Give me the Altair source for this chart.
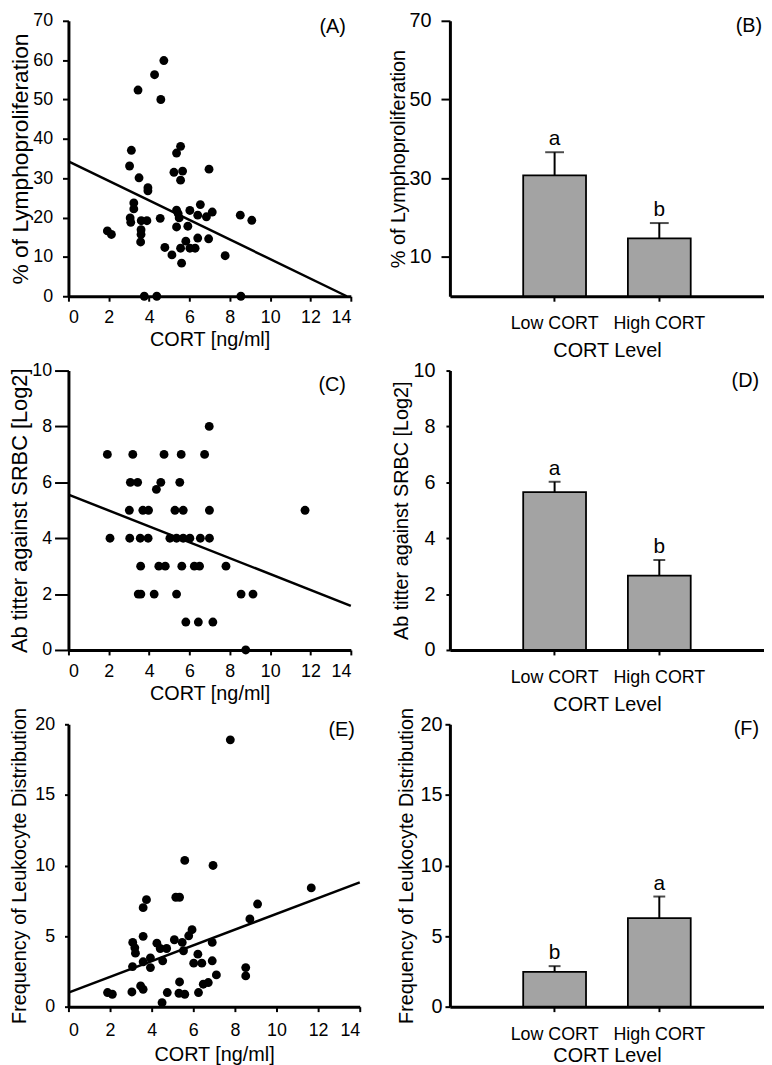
import altair as alt
import pandas as pd

FONT = "Liberation Sans"

# ---------------- Panel A : CORT vs % Lymphoproliferation ----------------
a_cort = [1.93, 2.13, 3.45, 4.27, 4.73, 4.58, 3.12, 3.03, 3.50, 3.94, 3.94, 3.24, 3.24,
          3.06, 3.09, 3.61, 3.89, 3.60, 3.60, 3.58, 3.76, 4.38, 4.55, 4.78, 5.13, 5.61,
          5.36, 5.56, 5.23, 5.66, 5.56, 5.36, 5.44, 5.49, 5.36, 5.56, 5.82, 6.02, 6.28,
          6.02, 5.92, 6.41, 6.54, 6.41, 6.84, 7.13, 6.95, 6.97, 7.77, 8.52, 8.55, 9.09]
a_lymph = [16.6, 15.7, 52.4, 56.3, 59.9, 50.0, 37.1, 33.1, 30.1, 27.6, 26.8, 23.7, 22.2,
           19.9, 18.8, 19.2, 19.2, 16.9, 15.7, 13.8, 0.0, 0.0, 19.8, 12.4, 10.5, 8.4,
           36.4, 38.1, 31.5, 31.8, 29.5, 21.9, 21.0, 19.9, 17.6, 12.2, 14.0, 12.2, 12.2,
           21.8, 17.8, 20.6, 23.3, 14.8, 20.2, 21.4, 14.6, 32.3, 10.3, 20.6, 0.0, 19.3]
a_fit_cort = [0.0, 13.8]
a_fit_lymph = [34.3, 0.0]

# ---------------- Panel C : CORT vs Ab titer ----------------
c_cort = [6.98, 1.93, 3.19, 4.74, 5.59, 6.75, 3.07, 3.43, 4.58, 5.52, 4.36,
          3.02, 3.69, 3.97, 5.28, 5.69, 6.99, 11.73,
          2.06, 3.04, 3.56, 3.95, 5.03, 5.36, 5.69, 6.02, 6.54, 6.99,
          3.58, 4.48, 4.80, 5.62, 6.24, 6.50, 7.81,
          3.46, 3.59, 4.25, 5.36, 8.56, 9.15, 5.82, 6.44, 7.16, 8.79]
c_titer = [8, 7, 7, 7, 7, 7, 6, 6, 6, 6, 5.75,
           5, 5, 5, 5, 5, 5, 5,
           4, 4, 4, 4, 4, 4, 4, 4, 4, 4,
           3, 3, 3, 3, 3, 3, 3,
           2, 2, 2, 2, 2, 2, 1, 1, 1, 0]
c_fit_cort = [0.0, 14.0]
c_fit_titer = [5.56, 1.58]

# ---------------- Panel E : CORT vs Leukocyte frequency ----------------
e_cort = [1.88, 2.11, 3.05, 3.47, 3.59, 3.09, 3.19, 3.22, 3.08, 3.59, 3.59, 3.75,
          3.59, 3.94, 3.94, 4.25, 4.41, 4.72, 4.53, 4.50, 4.75, 5.09, 5.16, 5.34,
          5.34, 5.31, 5.59, 5.47, 5.53, 5.59, 5.78, 5.94, 6.02, 6.22, 6.41, 6.25,
          6.48, 6.72, 6.95, 6.91, 6.91, 7.11, 7.78, 8.52, 8.52, 8.72, 9.09, 11.67]
e_freq = [1.00, 0.88, 1.04, 1.47, 1.23, 4.55, 4.17, 3.79, 2.84, 4.98, 7.01, 7.58,
          3.18, 3.46, 2.77, 4.50, 4.12, 4.12, 3.25, 0.28, 1.00, 4.74, 7.75, 7.75,
          1.75, 0.95, 0.88, 4.55, 3.96, 10.36, 5.02, 5.45, 3.08, 3.72, 3.08, 1.00,
          1.59, 1.71, 10.0, 4.55, 3.25, 2.25, 18.9, 2.77, 2.18, 6.21, 7.27, 8.41]
e_fit_cort = [0.0, 14.0]
e_fit_freq = [1.0, 8.8]

# ---------------- Bar panels B, D, F ----------------
levels = ["Low CORT", "High CORT"]
b_mean = [30.7, 14.7]
b_top = [36.6, 18.6]
b_letter = ["a", "b"]
d_mean = [5.65, 2.66]
d_top = [6.02, 3.22]
d_letter = ["a", "b"]
f_mean = [2.46, 6.27]
f_top = [2.87, 7.8]
f_letter = ["b", "a"]

cort_ticks = [0, 2, 4, 6, 8, 10, 12, 14]


def tag_layer(tag, x, y):
    return alt.Chart(pd.DataFrame({"t": [tag]})).mark_text(
        align="right", baseline="middle", fontSize=20, font=FONT, color="black"
    ).encode(x=alt.value(x), y=alt.value(y), text="t:N")


def scatter(xs, ys, fx, fy, ydom, yvals, ytitle, tag, w, h, tag_y,
            ytick, ypad, ytp, yts, xlp=8, xtp=3):
    pts = pd.DataFrame({"cort": xs, "val": ys})
    fit = pd.DataFrame({"cort": fx, "val": fy})
    xenc = alt.X("cort:Q", title="CORT [ng/ml]",
                 scale=alt.Scale(domain=[0, 14], nice=False, zero=False),
                 axis=alt.Axis(values=cort_ticks, tickSize=5, labelPadding=xlp,
                               titlePadding=xtp, labelFontSize=18, titleFontSize=20))
    yenc = alt.Y("val:Q", title=ytitle,
                 scale=alt.Scale(domain=ydom, nice=False),
                 axis=alt.Axis(values=yvals, tickSize=ytick, labelPadding=ypad,
                               titlePadding=ytp, labelFontSize=18, titleFontSize=yts))
    p = alt.Chart(pts).mark_circle(size=80, color="black", opacity=1).encode(x=xenc, y=yenc)
    l = alt.Chart(fit).mark_line(color="black", strokeWidth=2.5).encode(x=xenc, y=yenc)
    return alt.layer(p, l, tag_layer(tag, w - 5, tag_y)).properties(width=w, height=h)


def bars(means, tops, letters, ydom, yvals, ytitle, tag, w, h, tag_x, tag_y,
         ytick, ypad, ytp, yts, cap, xtp=8):
    df = pd.DataFrame({"level": levels, "mean": means, "top": tops, "letter": letters})
    xenc = alt.X("level:N", sort=levels, title="CORT Level",
                 scale=alt.Scale(paddingInner=0.4, paddingOuter=0.7),
                 axis=alt.Axis(labelAngle=0, tickSize=5, labelPadding=14, titlePadding=xtp,
                               labelFontSize=18, titleFontSize=20))
    yscale = alt.Scale(domain=ydom, nice=False)
    yaxis = alt.Axis(values=yvals, tickSize=ytick, labelPadding=ypad, titlePadding=ytp,
                     labelFontSize=20, titleFontSize=yts)
    ymean = alt.Y("mean:Q", title=ytitle, scale=yscale, axis=yaxis)
    ytop = alt.Y("top:Q", title=ytitle, scale=yscale, axis=yaxis)
    base = alt.Chart(df)
    err = base.mark_rule(color="black", strokeWidth=2).encode(x=xenc, y=ymean, y2="top:Q")
    bar = base.mark_bar(fill="#a3a3a3", stroke="black", strokeWidth=1.8).encode(x=xenc, y=ymean)
    capm = base.mark_tick(color="black", thickness=2, size=cap, orient="horizontal").encode(x=xenc, y=ytop)
    txt = base.mark_text(baseline="bottom", dy=-3, fontSize=21, font=FONT, color="black").encode(
        x=xenc, y=ytop, text="letter:N")
    return alt.layer(err, bar, capm, txt, tag_layer(tag, tag_x, tag_y)).properties(width=w, height=h)


pA = scatter(a_cort, a_lymph, a_fit_cort, a_fit_lymph, [0, 70], list(range(0, 71, 10)),
             "% of Lymphoproliferation", "(A)", 285, 278, 6, 6, 10, 0, 23)
pB = bars(b_mean, b_top, b_letter, [0, 70], [10, 30, 50, 70],
          "% of Lymphoproliferation", "(B)", 317, 278, 315, 5, 9, 10, 1, 20, 19)
pC = scatter(c_cort, c_titer, c_fit_cort, c_fit_titer, [0, 10], [0, 2, 4, 6, 8, 10],
             "Ab titter against SRBC [Log2]", "(C)", 285, 282, 15, 14, 3, 0, 22)
pD = bars(d_mean, d_top, d_letter, [0, 10], [0, 2, 4, 6, 8, 10],
          "Ab titter against SRBC [Log2]", "(D)", 317, 282, 312, 11, 4, 11, 2, 20, 12)
pE = scatter(e_cort, e_freq, e_fit_cort, e_fit_freq, [0, 20], [0, 5, 10, 15, 20],
             "Frequency of Leukocyte Distribution", "(E)", 294, 285, 6, 4, 10, 5, 20,
             xlp=10, xtp=5)
pF = bars(f_mean, f_top, f_letter, [0, 20], [0, 5, 10, 15, 20],
          "Frequency of Leukocyte Distribution", "(F)", 317, 285, 312, 5, 5, 3, 4, 20, 12,
          xtp=2)

chart = alt.concat(
    pA, pB, pC, pD, pE, pF, columns=2,
    spacing={"row": 75, "column": 91}, bounds="flush"
).properties(
    padding={"left": 0, "top": -2, "right": 0, "bottom": 0}
).configure_view(
    stroke=None
).configure_axis(
    grid=False,
    labelFont=FONT, titleFont=FONT,
    labelColor="black", titleColor="black",
    domainColor="black", tickColor="black",
    domainWidth=3, tickWidth=2,
    titleFontWeight="normal",
)

chart.save("out.html", embed_options={"renderer": "svg", "actions": False})
